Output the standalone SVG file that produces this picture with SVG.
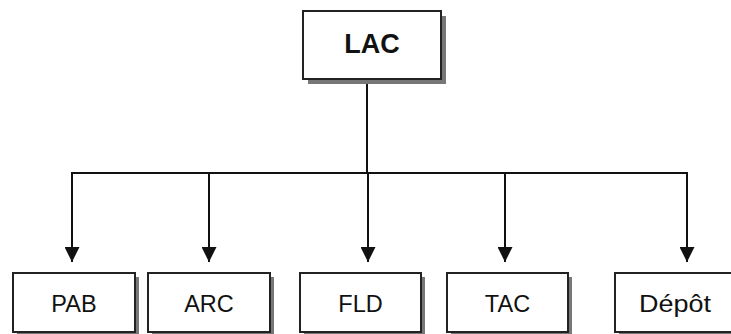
<svg xmlns="http://www.w3.org/2000/svg" width="731" height="334" viewBox="0 0 731 334">
<style>
.box{fill:#fff;stroke:#222;stroke-width:2}
.shadow{fill:#777}
.lbl{font-family:"Liberation Sans",Arial,sans-serif;font-size:23.5px;fill:#111;text-anchor:middle}
.bold{font-weight:bold;font-size:27px}
.conn{fill:none;stroke:#111;stroke-width:2}
</style>
<defs>
<marker id="arr" markerUnits="userSpaceOnUse" markerWidth="16" markerHeight="15" refX="15" refY="7.5" orient="auto">
<path d="M0,0 L15,7.5 L0,15 Z" fill="#111"/>
</marker>
</defs>
<rect width="731" height="334" fill="#fff"/>
<g id="connectors">
<path class="conn" d="M367,80 V173"/>
<path class="conn" d="M72,173 H687"/>
<path class="conn" d="M72,172 V262" marker-end="url(#arr)"/>
<path class="conn" d="M209,173 V262" marker-end="url(#arr)"/>
<path class="conn" d="M368,173 V262" marker-end="url(#arr)"/>
<path class="conn" d="M505,173 V262" marker-end="url(#arr)"/>
<path class="conn" d="M687,172 V262" marker-end="url(#arr)"/>
</g>
<g id="LAC">
<rect class="shadow" x="308" y="16" width="138" height="68"/>
<rect class="box" x="303" y="11" width="138" height="68"/>
<text class="lbl bold" x="372" y="53">LAC</text>
</g>
<g id="PAB">
<rect class="shadow" x="17" y="277" width="122" height="59"/>
<rect class="box" x="13" y="273" width="122" height="59"/>
<text class="lbl" x="74" y="312">PAB</text>
</g>
<g id="ARC">
<rect class="shadow" x="152" y="277" width="122" height="59"/>
<rect class="box" x="148" y="273" width="122" height="59"/>
<text class="lbl" x="209" y="312">ARC</text>
</g>
<g id="FLD">
<rect class="shadow" x="304" y="277" width="121" height="59"/>
<rect class="box" x="300" y="273" width="121" height="59"/>
<text class="lbl" x="360.5" y="312">FLD</text>
</g>
<g id="TAC">
<rect class="shadow" x="451" y="277" width="121" height="59"/>
<rect class="box" x="447" y="273" width="121" height="59"/>
<text class="lbl" x="507.5" y="312">TAC</text>
</g>
<g id="Depot">
<rect class="shadow" x="619" y="277" width="121" height="59"/>
<rect class="box" x="615" y="273" width="121" height="59"/>
<text class="lbl" x="675" y="312" textLength="72" lengthAdjust="spacingAndGlyphs">Dépôt</text>
</g>
</svg>
